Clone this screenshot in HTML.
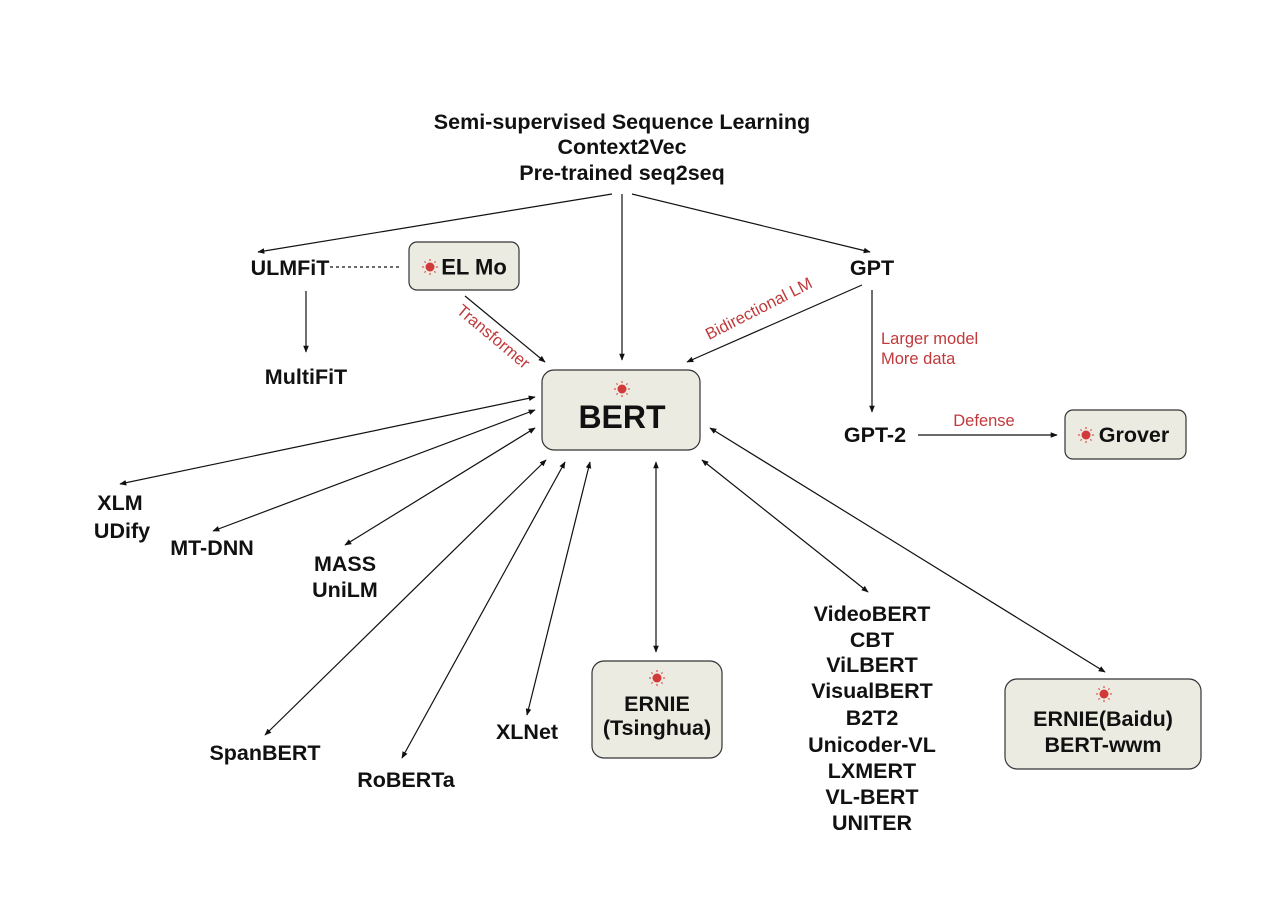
<!DOCTYPE html>
<html><head><meta charset="utf-8"><style>
html,body{margin:0;padding:0;background:#fff;}
svg{display:block;}
.t{font-family:"Liberation Sans",Arial,sans-serif;font-weight:bold;font-size:21.5px;fill:#111;text-anchor:middle;dominant-baseline:central;}
.r{font-family:"Liberation Sans",Arial,sans-serif;font-size:16.5px;fill:#c0393b;dominant-baseline:central;}
.box{fill:#ebebe1;stroke:#333;stroke-width:1.2;}
line{stroke:#111;stroke-width:1.2;}
</style></head><body>
<svg width="1280" height="910" viewBox="0 0 1280 910">
<defs>
<marker id="a" viewBox="0 0 10 10" refX="9" refY="5" markerWidth="7" markerHeight="7" orient="auto-start-reverse" markerUnits="userSpaceOnUse"><path d="M0,1 L10,5 L0,9 z" fill="#111"/></marker>
<g id="sun"><circle r="4.5" fill="#d23a3a"/><g stroke="#e05050" stroke-width="1.2"><line x1="0" y1="-8" x2="0" y2="-6" style="stroke:#e05050"/><line x1="0" y1="6" x2="0" y2="8" style="stroke:#e05050"/><line x1="-8" y1="0" x2="-6" y2="0" style="stroke:#e05050"/><line x1="6" y1="0" x2="8" y2="0" style="stroke:#e05050"/><line x1="-5.6" y1="-5.6" x2="-4.3" y2="-4.3" style="stroke:#e05050"/><line x1="5.6" y1="5.6" x2="4.3" y2="4.3" style="stroke:#e05050"/><line x1="-5.6" y1="5.6" x2="-4.3" y2="4.3" style="stroke:#e05050"/><line x1="5.6" y1="-5.6" x2="4.3" y2="-4.3" style="stroke:#e05050"/></g></g>
</defs>

<text class="t" x="622" y="122">Semi-supervised Sequence Learning</text>
<text class="t" x="622" y="147">Context2Vec</text>
<text class="t" x="622" y="173">Pre-trained seq2seq</text>

<line x1="612" y1="194" x2="258" y2="252" marker-end="url(#a)"/>
<line x1="622" y1="194" x2="622" y2="360" marker-end="url(#a)"/>
<line x1="632" y1="194" x2="870" y2="252" marker-end="url(#a)"/>

<text class="t" x="290" y="268">ULMFiT</text>
<line x1="330" y1="267" x2="400" y2="267" stroke-dasharray="3,3"/>
<rect class="box" x="409" y="242" width="110" height="48" rx="8"/>
<use href="#sun" x="430" y="267"/>
<text class="t" x="474" y="267" style="font-size:22px">EL Mo</text>
<text class="t" x="872" y="268">GPT</text>

<line x1="306" y1="291" x2="306" y2="352" marker-end="url(#a)"/>
<text class="t" x="306" y="377">MultiFiT</text>

<line x1="465" y1="296" x2="545" y2="362" marker-end="url(#a)"/>
<text class="r" x="493" y="337" text-anchor="middle" transform="rotate(40 493 337)">Transformer</text>
<line x1="862" y1="285" x2="687" y2="362" marker-end="url(#a)"/>
<text class="r" x="759" y="309" text-anchor="middle" transform="rotate(-27 759 309)">Bidirectional LM</text>

<line x1="872" y1="290" x2="872" y2="412" marker-end="url(#a)"/>
<text class="r" x="881" y="339">Larger model</text>
<text class="r" x="881" y="359">More data</text>
<text class="t" x="875" y="435">GPT-2</text>
<line x1="918" y1="435" x2="1057" y2="435" marker-end="url(#a)"/>
<text class="r" x="984" y="421" text-anchor="middle">Defense</text>
<rect class="box" x="1065" y="410" width="121" height="49" rx="8"/>
<use href="#sun" x="1086" y="435"/>
<text class="t" x="1134" y="435">Grover</text>

<rect class="box" x="542" y="370" width="158" height="80" rx="12"/>
<use href="#sun" x="622" y="389"/>
<text class="t" x="622" y="417" style="font-size:32px">BERT</text>

<line x1="535" y1="397" x2="120" y2="484" marker-start="url(#a)" marker-end="url(#a)"/>
<line x1="535" y1="410" x2="213" y2="531" marker-start="url(#a)" marker-end="url(#a)"/>
<line x1="535" y1="428" x2="345" y2="545" marker-start="url(#a)" marker-end="url(#a)"/>
<line x1="546" y1="460" x2="265" y2="735" marker-start="url(#a)" marker-end="url(#a)"/>
<line x1="565" y1="462" x2="402" y2="758" marker-start="url(#a)" marker-end="url(#a)"/>
<line x1="590" y1="462" x2="527" y2="715" marker-start="url(#a)" marker-end="url(#a)"/>
<line x1="656" y1="462" x2="656" y2="652" marker-start="url(#a)" marker-end="url(#a)"/>
<line x1="702" y1="460" x2="868" y2="592" marker-start="url(#a)" marker-end="url(#a)"/>
<line x1="710" y1="428" x2="1105" y2="672" marker-start="url(#a)" marker-end="url(#a)"/>

<text class="t" x="120" y="503">XLM</text>
<text class="t" x="122" y="531">UDify</text>
<text class="t" x="212" y="548">MT-DNN</text>
<text class="t" x="345" y="564">MASS</text>
<text class="t" x="345" y="590">UniLM</text>
<text class="t" x="265" y="753">SpanBERT</text>
<text class="t" x="406" y="780">RoBERTa</text>
<text class="t" x="527" y="732">XLNet</text>

<rect class="box" x="592" y="661" width="130" height="97" rx="12"/>
<use href="#sun" x="657" y="678"/>
<text class="t" x="657" y="704">ERNIE</text>
<text class="t" x="657" y="728">(Tsinghua)</text>

<text class="t" x="872" y="614">VideoBERT</text>
<text class="t" x="872" y="640">CBT</text>
<text class="t" x="872" y="665">ViLBERT</text>
<text class="t" x="872" y="691">VisualBERT</text>
<text class="t" x="872" y="718">B2T2</text>
<text class="t" x="872" y="745">Unicoder-VL</text>
<text class="t" x="872" y="771">LXMERT</text>
<text class="t" x="872" y="797">VL-BERT</text>
<text class="t" x="872" y="823">UNITER</text>

<rect class="box" x="1005" y="679" width="196" height="90" rx="12"/>
<use href="#sun" x="1104" y="694"/>
<text class="t" x="1103" y="719">ERNIE(Baidu)</text>
<text class="t" x="1103" y="745">BERT-wwm</text>
</svg>
</body></html>
